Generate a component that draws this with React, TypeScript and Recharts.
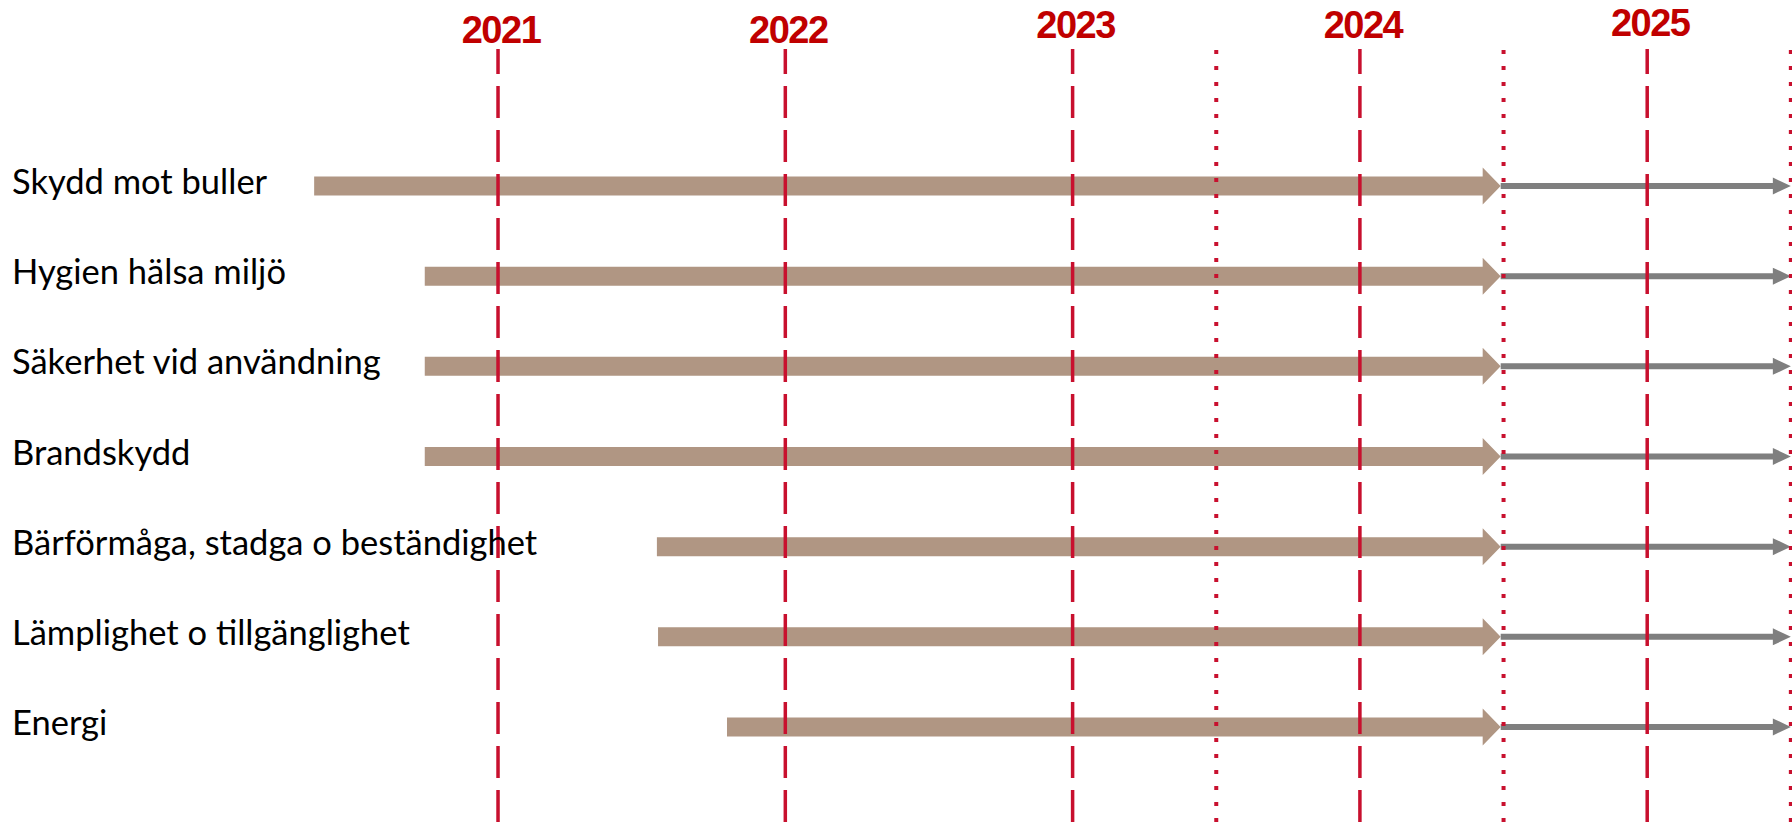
import React from 'react';
import { BarChart, Bar, XAxis, YAxis, ReferenceLine } from 'recharts';

// ---- data ----
const categories = [
  'Skydd mot buller',
  'Hygien hälsa miljö',
  'Säkerhet vid användning',
  'Brandskydd',
  'Bärförmåga, stadga o beständighet',
  'Lämplighet o tillgänglighet',
  'Energi',
];
const startYears = [2020.36, 2020.745, 2020.745, 2020.745, 2021.553, 2021.557, 2021.797];
const milestoneYear = 2024.49;
const endYear = 2025.5;
const yearLines = [2021, 2022, 2023, 2024, 2025];
const yearLabels = ['2021', '2022', '2023', '2024', '2025'];
const halfYearLines = [2023.5, 2024.5, 2025.5];

const rows = categories.map((name, i) => ({
  name,
  done: [startYears[i], milestoneYear],
  next: [milestoneYear, endYear],
}));

// ---- styles ----
const W = 1792;
const H = 822;
const BROWN = '#B09683';
const GRAY = '#7F7F7F';
const LINE_RED = '#C8102E';
const TEXT_RED = '#C00000';
const yearLabelLift = [6, 6, 11, 11, 13];

const BrownArrow = (props: any) => {
  const { x, y, width, height } = props;
  if (width == null || width <= 0) return null;
  const cy = y + height / 2;
  const body = 9.5;
  const head = 18.5;
  const headLen = 18;
  const xe = x + width;
  const xb = xe - headLen;
  const pts = [
    [x, cy - body], [xb, cy - body], [xb, cy - head], [xe, cy],
    [xb, cy + head], [xb, cy + body], [x, cy + body],
  ].map((p) => p.join(',')).join(' ');
  return <polygon points={pts} fill={BROWN} />;
};

const GrayArrow = (props: any) => {
  const { x, y, width, height } = props;
  if (width == null || width <= 0) return null;
  const cy = y + height / 2;
  const body = 3;
  const head = 8.5;
  const headLen = 18;
  const xe = x + width;
  const xb = xe - headLen;
  const pts = [
    [x, cy - body], [xb, cy - body], [xb, cy - head], [xe, cy],
    [xb, cy + head], [xb, cy + body], [x, cy + body],
  ].map((p) => p.join(',')).join(' ');
  return <polygon points={pts} fill={GRAY} />;
};

const RowTick = (props: any) => {
  const { y, payload } = props;
  return (
    <text x={12} y={y} dy={8.5} fontFamily="Lato, 'Open Sans', sans-serif" fontSize={34.5} fill="#000" textAnchor="start">
      {payload.value}
    </text>
  );
};

const YearLabel = (props: any) => {
  const { viewBox, text, lift } = props;
  if (!viewBox) return null;
  return (
    <text
      x={viewBox.x + 3}
      y={viewBox.y - lift}
      textAnchor="middle"
      fontFamily="'Liberation Sans', Arial, sans-serif"
      fontWeight="bold"
      fontSize={38}
      letterSpacing={-1.5}
      fill={TEXT_RED}
    >
      {text}
    </text>
  );
};

export default function App() {
  return (
    <div style={{ position: 'absolute', left: 0, top: 0, width: W, height: H, background: '#fff' }}>
      <BarChart
        width={W}
        height={H}
        data={rows}
        layout="vertical"
        margin={{ top: 49, right: 0, bottom: 0, left: 0 }}
        barGap={-37}
      >
        <XAxis type="number" domain={[2019.27, 2025.504]} hide allowDataOverflow />
        <YAxis
          type="category"
          dataKey="name"
          width={1}
          axisLine={false}
          tickLine={false}
          tick={<RowTick />}
          padding={{ top: 91.5, bottom: 50.4 }}
          interval={0}
        />
        <Bar dataKey="done" barSize={37} shape={<BrownArrow />} isAnimationActive={false} />
        <Bar dataKey="next" barSize={37} shape={<GrayArrow />} isAnimationActive={false} />
        {yearLines.map((yr, i) => (
          <ReferenceLine
            key={'y' + yr}
            x={yr}
            stroke={LINE_RED}
            strokeWidth={3.5}
            strokeDasharray="32 12"
            label={<YearLabel text={yearLabels[i]} lift={yearLabelLift[i]} />}
          />
        ))}
        {halfYearLines.map((v) => (
          <ReferenceLine
            key={'h' + v}
            x={v}
            stroke={LINE_RED}
            strokeWidth={4}
            strokeDasharray="4 12"
            ifOverflow="visible"
          />
        ))}
      </BarChart>
    </div>
  );
}
